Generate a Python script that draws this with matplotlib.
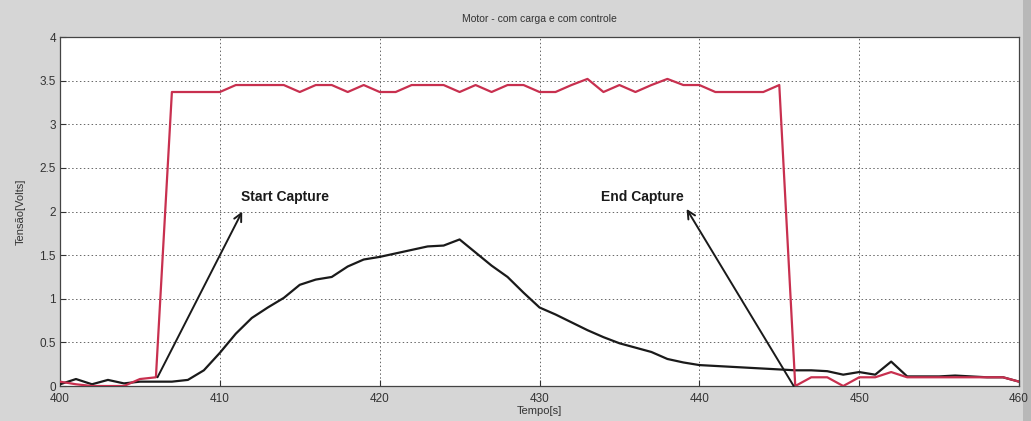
import numpy as np
import matplotlib.pyplot as plt
from matplotlib.patches import Rectangle

# sample times (s)
tempo = list(range(400, 461))

# reference / command signal (red)
tensao_ref = [0.05, 0.02, 0.0, 0.0, 0.0, 0.08, 0.1, 3.37, 3.37, 3.37,
              3.37, 3.45, 3.45, 3.45, 3.45, 3.37, 3.45, 3.45, 3.37, 3.45,
              3.37, 3.37, 3.45, 3.45, 3.45, 3.37, 3.45, 3.37, 3.45, 3.45,
              3.37, 3.37, 3.45, 3.52, 3.37, 3.45, 3.37, 3.45, 3.52, 3.45,
              3.45, 3.37, 3.37, 3.37, 3.37, 3.45, 0.0, 0.1, 0.1, 0.0,
              0.1, 0.1, 0.16, 0.1, 0.1, 0.1, 0.1, 0.1, 0.1, 0.1, 0.05]

# motor response (black)
tensao_motor = [0.02, 0.08, 0.02, 0.07, 0.03, 0.05, 0.05, 0.05, 0.07, 0.18,
                0.38, 0.6, 0.78, 0.9, 1.01, 1.16, 1.22, 1.25, 1.37, 1.45,
                1.48, 1.52, 1.56, 1.6, 1.61, 1.68, 1.53, 1.38, 1.25, 1.07,
                0.9, 0.82, 0.73, 0.64, 0.56, 0.49, 0.44, 0.39, 0.31, 0.27,
                0.24, 0.23, 0.22, 0.21, 0.2, 0.19, 0.18, 0.18, 0.17, 0.13,
                0.16, 0.13, 0.28, 0.11, 0.11, 0.11, 0.12, 0.11, 0.1, 0.1, 0.05]

# annotations: (label, text pos, arrow tip, arrow tail)
start_label = 'Start Capture'
start_text = (411.3, 2.17)
start_tip = (411.4, 2.0)
start_tail = (406.1, 0.1)
end_label = 'End Capture'
end_text = (433.85, 2.17)
end_tip = (439.2, 2.03)
end_tail = (445.9, 0.0)

plt.rcParams['font.family'] = ['Liberation Sans', 'DejaVu Sans']

fig = plt.figure(figsize=(10.31, 4.21), dpi=100, facecolor='#d6d6d6')
# darker window frame on the right edge (behind everything)
frame = Rectangle((0.9925, 0), 0.0075, 1, transform=fig.transFigure,
                  facecolor='#b8b8b8', edgecolor='none', zorder=-5)
fig.add_artist(frame)
ax = fig.add_axes([0.0582, 0.0831, 0.9302, 0.8289])
ax.set_facecolor('white')

ax.plot(tempo, tensao_motor, color='#1a1a1a', lw=1.6, zorder=3)
ax.plot(tempo, tensao_ref, color='#c8304f', lw=1.6, zorder=4)

for label, txt, tip, tail in [(start_label, start_text, start_tip, start_tail),
                              (end_label, end_text, end_tip, end_tail)]:
    ax.annotate('', xy=tip, xytext=tail,
                arrowprops=dict(arrowstyle='->', color='#1a1a1a', lw=1.4,
                                mutation_scale=14, shrinkA=0, shrinkB=0),
                zorder=5)
    ax.text(txt[0], txt[1], label, fontsize=10, fontweight='bold',
            ha='left', va='center', color='#1a1a1a')

ax.set_xlim(400, 460)
ax.set_ylim(0, 4)
ax.set_xticks(np.arange(400, 461, 10))
ax.set_yticks(np.arange(0, 4.01, 0.5))
ax.set_yticklabels(['0', '0.5', '1', '1.5', '2', '2.5', '3', '3.5', '4'])
ax.tick_params(direction='in', labelsize=8.5, colors='#333333', length=4)
ax.tick_params(axis='x', pad=5)
ax.tick_params(axis='y', pad=3)
ax.grid(True, color='#666666', linestyle=(0, (1.5, 2.5)), lw=0.7)
for sp in ax.spines.values():
    sp.set_color('#444444')
    sp.set_linewidth(0.9)

ax.set_title('Motor - com carga e com controle', fontsize=7.5, color='#333333', pad=11)
ax.set_xlabel('Tempo[s]', fontsize=8, color='#333333', labelpad=1)
ax.set_ylabel('Tensão[Volts]', fontsize=8, color='#333333', labelpad=10)

fig.savefig('out.png', dpi=100, facecolor=fig.get_facecolor())
